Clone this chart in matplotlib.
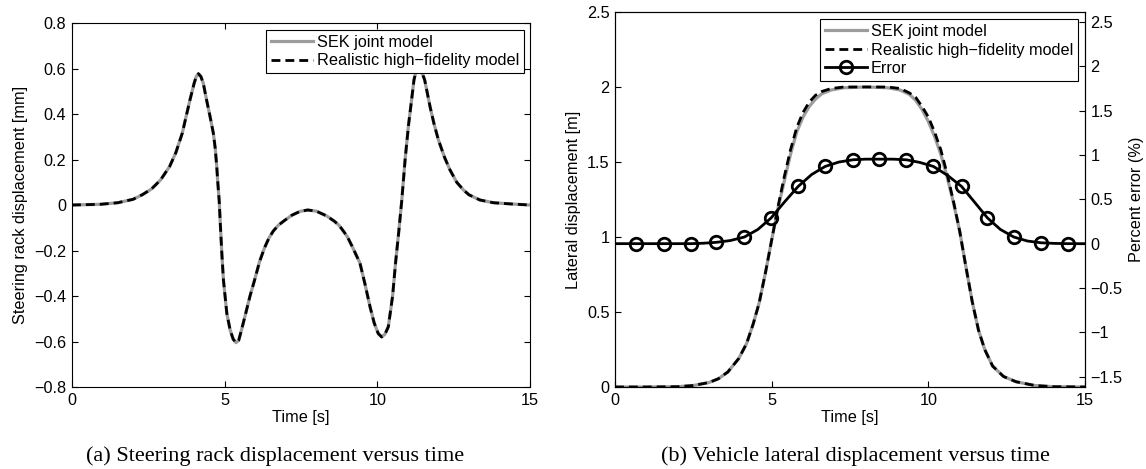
import matplotlib
matplotlib.use('Agg')
import matplotlib.pyplot as plt
import matplotlib.ticker as mticker

# (a) steering rack displacement [mm]
t_rack = [0, 0.92, 1.5, 2.0, 2.3, 2.6, 2.9, 3.2, 3.4, 3.61, 3.86, 4.0, 4.07, 4.14, 4.22, 4.30,
          4.41, 4.52, 4.63, 4.69, 4.74, 4.78, 4.82, 4.86, 4.91, 4.96, 5.07, 5.18, 5.28, 5.37,
          5.46, 5.55, 5.69, 5.83, 5.98, 6.14, 6.3, 6.45, 6.59, 6.75, 6.92, 7.2, 7.47, 7.72,
          8.0, 8.34, 8.6, 8.75, 8.89, 9.02, 9.15, 9.43, 9.6, 9.76, 9.9, 10.03, 10.14, 10.25,
          10.36, 10.5, 10.6, 10.7, 10.8, 10.91, 11.02, 11.12, 11.2, 11.28, 11.36, 11.44,
          11.55, 11.73, 11.86, 12.0, 12.2, 12.38, 12.6, 12.82, 13.0, 13.36, 13.8, 14.45, 15.0]
rack_sek = [0, 0.003, 0.01, 0.025, 0.045, 0.07, 0.11, 0.17, 0.23, 0.315, 0.46, 0.535, 0.565,
            0.577, 0.565, 0.535, 0.46, 0.39, 0.315, 0.25, 0.17, 0.09, 0.02, -0.09, -0.22,
            -0.33, -0.476, -0.55, -0.59, -0.605, -0.595, -0.55, -0.476, -0.40, -0.33, -0.25,
            -0.19, -0.145, -0.115, -0.09, -0.072, -0.045, -0.028, -0.022, -0.027, -0.048,
            -0.072, -0.09, -0.115, -0.14, -0.175, -0.255, -0.35, -0.447, -0.52, -0.565, -0.58,
            -0.568, -0.535, -0.40, -0.25, -0.12, 0.02, 0.2, 0.35, 0.46, 0.55, 0.595, 0.605,
            0.59, 0.55, 0.43, 0.355, 0.286, 0.21, 0.154, 0.1, 0.066, 0.045, 0.022, 0.01, 0.004, 0]
rack_hf = list(rack_sek)

# (b) lateral displacement [m]
t_lat = [0, 1.0, 2.0, 2.5, 3.0, 3.3, 3.6, 3.95, 4.2, 4.41, 4.6, 4.8, 5.0, 5.2, 5.4, 5.6, 5.8,
         6.0, 6.2, 6.4, 6.6, 6.9, 7.3, 8.0, 8.7, 9.1, 9.4, 9.6, 9.8, 10.0, 10.2, 10.4, 10.6,
         10.8, 11.0, 11.2, 11.4, 11.6, 11.8, 12.05, 12.4, 12.8, 13.4, 14.0, 15.0]
lat_hf = [0, 0, 0.002, 0.01, 0.03, 0.055, 0.10, 0.19, 0.29, 0.42, 0.56, 0.76, 0.98, 1.2, 1.40,
          1.58, 1.73, 1.83, 1.90, 1.945, 1.97, 1.99, 2.0, 2.0, 2.0, 1.99, 1.96, 1.93, 1.87,
          1.80, 1.70, 1.58, 1.42, 1.24, 1.04, 0.80, 0.57, 0.38, 0.25, 0.14, 0.07, 0.035,
          0.01, 0.002, 0]
lat_sek = [0, 0, 0.002, 0.01, 0.03, 0.055, 0.10, 0.19, 0.29, 0.42, 0.56, 0.76, 0.98, 1.19,
           1.37, 1.55, 1.70, 1.80, 1.87, 1.92, 1.955, 1.98, 1.995, 2.0, 1.995, 1.98, 1.95,
           1.91, 1.85, 1.77, 1.67, 1.55, 1.40, 1.23, 1.04, 0.80, 0.57, 0.38, 0.25, 0.14, 0.07,
           0.035, 0.01, 0.002, 0]

# percent error, markers on odd indices
t_err = [0, 0.667, 1.11, 1.553, 1.99, 2.428, 2.83, 3.234, 3.68, 4.131, 4.56, 4.983, 5.41,
         5.846, 6.28, 6.709, 7.15, 7.595, 8.0, 8.435, 8.87, 9.298, 9.73, 10.161, 10.61,
         11.059, 11.47, 11.887, 12.3, 12.727, 13.16, 13.59, 14.02, 14.442, 15.0]
err = [0, 0, 0, 0, 0, 0, 0.005, 0.015, 0.035, 0.075, 0.16, 0.29, 0.47, 0.645, 0.78, 0.87,
       0.92, 0.945, 0.952, 0.952, 0.952, 0.945, 0.915, 0.87, 0.77, 0.645, 0.47, 0.29, 0.16,
       0.075, 0.03, 0.01, 0.003, 0, 0]

x_ticks = [0, 5, 10, 15]
rack_ticks = [-0.8, -0.6, -0.4, -0.2, 0, 0.2, 0.4, 0.6, 0.8]
lat_ticks = [0, 0.5, 1, 1.5, 2, 2.5]
err_ticks = [-1.5, -1, -0.5, 0, 0.5, 1, 1.5, 2, 2.5]

plt.rcParams['font.family'] = 'Liberation Sans'
plt.rcParams['font.size'] = 11.7
plt.rcParams['axes.linewidth'] = 0.8


def matlab_fmt(v, pos):
    s = '%g' % round(v, 6)
    if s == '-0':
        s = '0'
    return s.replace('-', '\u2212')


gray = '#9c9c9c'
dash = (0, (3.2, 1.8))
W, H = 1146, 469

fig = plt.figure(figsize=(W / 100, H / 100), dpi=100)

# ---------- (a) ----------
ax1 = fig.add_axes([72 / W, 1 - 387 / H, 458 / W, 364 / H])
ax1.plot(t_rack, rack_sek, color=gray, lw=2.3, label='SEK joint model')
ax1.plot(t_rack, rack_hf, color='k', lw=2.0, linestyle=dash, label='Realistic high\u2212fidelity model')
ax1.set_xlim(0, 15)
ax1.set_ylim(-0.8, 0.8)
ax1.set_xticks(x_ticks)
ax1.set_yticks(rack_ticks)
ax1.xaxis.set_major_formatter(mticker.FuncFormatter(matlab_fmt))
ax1.yaxis.set_major_formatter(mticker.FuncFormatter(matlab_fmt))
ax1.tick_params(direction='in', length=4, width=0.8, top=True, right=True, pad=4)
ax1.set_xlabel('Time [s]', labelpad=2)
ax1.set_ylabel('Steering rack displacement [mm]')
ax1.yaxis.set_label_coords(-0.096, 0.5)
leg1 = ax1.legend(loc='upper right', bbox_to_anchor=(0.987, 0.981), borderaxespad=0,
                  fancybox=False, framealpha=1, edgecolor='k', handlelength=2.55,
                  handletextpad=0.25, borderpad=0.3, labelspacing=0.22)
leg1.get_frame().set_linewidth(0.8)

# ---------- (b) ----------
ax2 = fig.add_axes([615 / W, 1 - 387 / H, 470 / W, 375 / H])
l_sek, = ax2.plot(t_lat, lat_sek, color=gray, lw=2.3)
l_hf, = ax2.plot(t_lat, lat_hf, color='k', lw=2.0, linestyle=dash)
ax2.set_xlim(0, 15)
ax2.set_ylim(0, 2.5)
ax2.set_xticks(x_ticks)
ax2.set_yticks(lat_ticks)
ax2.xaxis.set_major_formatter(mticker.FuncFormatter(matlab_fmt))
ax2.yaxis.set_major_formatter(mticker.FuncFormatter(matlab_fmt))
ax2.tick_params(direction='in', length=4, width=0.8, pad=4)
ax2.tick_params(axis='y', right=False)
ax2.set_xlabel('Time [s]', labelpad=2)
ax2.set_ylabel('Lateral displacement [m]')
ax2.yaxis.set_label_coords(-0.072, 0.5)

ax3 = ax2.twinx()
l_err, = ax3.plot(t_err, err, color='k', lw=2.0, marker='o', markersize=9, mfc='none',
                  mew=2.0, markevery=slice(1, 34, 2))
ax3.set_ylim(-1.615, 2.61)
ax3.set_yticks(err_ticks)
ax3.yaxis.set_major_formatter(mticker.FuncFormatter(matlab_fmt))
ax3.tick_params(direction='in', length=4, width=0.8, pad=4)
ax3.set_ylabel('Percent error (%)')
ax3.yaxis.set_label_coords(1.094, 0.5)
leg2 = ax3.legend([l_sek, l_hf, l_err],
                  ['SEK joint model', 'Realistic high\u2212fidelity model', 'Error'],
                  loc='upper right', bbox_to_anchor=(0.985, 0.981), borderaxespad=0,
                  fancybox=False, framealpha=1, edgecolor='k', handlelength=2.55,
                  handletextpad=0.25, borderpad=0.3, labelspacing=0.22, numpoints=1)
leg2.get_frame().set_linewidth(0.8)

# captions
cap_font = dict(family='Liberation Serif', fontsize=16, ha='center', va='center')
fig.text(275 / W, 1 - 456 / H, '(a) Steering rack displacement versus time', **cap_font)
fig.text(855 / W, 1 - 456 / H, '(b) Vehicle lateral displacement versus time', **cap_font)

fig.savefig('out.png', dpi=100)
